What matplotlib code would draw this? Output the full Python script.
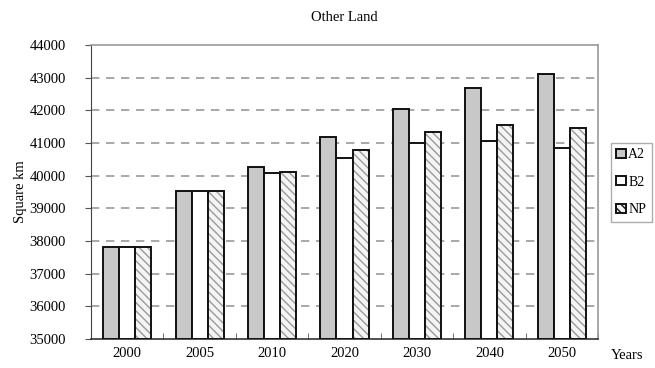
import numpy as np
import matplotlib
matplotlib.use('Agg')
import matplotlib.pyplot as plt
from matplotlib.patches import Patch

years = ['2000', '2005', '2010', '2020', '2030', '2040', '2050']
a2 = [37820, 39540, 40260, 41190, 42040, 42690, 43100]
b2 = [37820, 39540, 40080, 40550, 40990, 41060, 40840]
np_ = [37820, 39540, 40120, 40790, 41340, 41560, 41450]

plt.rcParams['font.family'] = ['Liberation Serif', 'DejaVu Serif']
plt.rcParams['font.size'] = 10.5

fig = plt.figure(figsize=(6.55, 3.68), dpi=100)
ax = fig.add_axes([0.139, 0.079, 0.774, 0.799])

x = np.arange(len(years))
w = 0.222
base = 35000

# A2 - gray, B2 - white, NP - hatched
ax.bar(x - w, np.array(a2) - base, w, bottom=base, color='#c8c8c8', edgecolor='#111111', linewidth=1.4, zorder=3)
ax.bar(x, np.array(b2) - base, w, bottom=base, color='white', edgecolor='#111111', linewidth=1.4, zorder=3)
ax.bar(x + w, np.array(np_) - base, w, bottom=base, color='#f4f4f4', edgecolor='#9a9a9a', hatch='\\\\\\\\', linewidth=0, zorder=3)
ax.bar(x + w, np.array(np_) - base, w, bottom=base, fill=False, edgecolor='#111111', linewidth=1.4, zorder=4)

ax.set_ylim(35000, 44000)
ax.set_yticks(range(35000, 44001, 1000))
ax.set_xlim(-0.5, len(years) - 0.5)
ax.set_xticks(x)
ax.set_xticklabels(years)
ax.set_xticks(np.arange(-0.5, len(years)), minor=True)
ax.tick_params(axis='x', which='major', length=0, pad=6)
ax.tick_params(axis='x', which='minor', direction='in', length=4, color='#555555')
ax.tick_params(axis='y', direction='out', length=4, color='#555555', pad=14)

for y in range(36000, 44000, 1000):
    ax.axhline(y, color='#9a9a9a', linestyle=(0, (5, 4)), linewidth=1.2, zorder=1)

for s in ['top', 'right']:
    ax.spines[s].set_color('#999999')
    ax.spines[s].set_linewidth(1.2)
ax.spines['left'].set_color('#444444')
ax.spines['bottom'].set_color('#333333')
ax.spines['bottom'].set_linewidth(1.2)

ax.set_title('Other Land', fontsize=10.5, pad=17)
ax.set_ylabel('Square km', fontsize=10.5, labelpad=2)
fig.text(0.932, 0.035, 'Years', fontsize=10.5, ha='left', va='center')

handles = [
    Patch(facecolor='#c8c8c8', edgecolor='#111111', linewidth=1.4),
    Patch(facecolor='white', edgecolor='#111111', linewidth=1.4),
    Patch(facecolor='#f4f4f4', edgecolor='#111111', hatch='\\\\\\\\', linewidth=1.4),
]
leg = fig.legend(handles, ['A2', 'B2', 'NP'], loc='center right', bbox_to_anchor=(0.995, 0.505),
                 frameon=True, fancybox=False, edgecolor='#999999', fontsize=10,
                 handlelength=0.65, handleheight=0.65, handletextpad=0.2,
                 labelspacing=1.05, borderpad=0.4, borderaxespad=0)

plt.savefig('out.png', dpi=100)
